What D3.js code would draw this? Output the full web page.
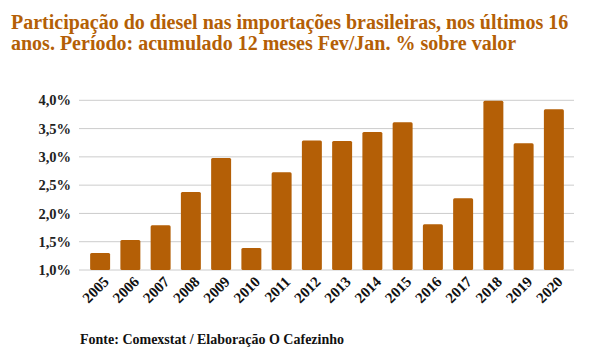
<!DOCTYPE html>
<html><head><meta charset="utf-8">
<script src="https://cdn.jsdelivr.net/npm/d3@7"></script>
<style>body{margin:0;background:#fff}</style>
</head><body>
<svg id="c" width="590" height="357"></svg>
<script>
const years = ["2005","2006","2007","2008","2009","2010","2011","2012","2013","2014","2015","2016","2017","2018","2019","2020"];
const values = [1.30,1.53,1.79,2.38,2.98,1.39,2.73,3.29,3.28,3.44,3.61,1.81,2.27,3.99,3.24,3.84];
const yTicks = [1.0,1.5,2.0,2.5,3.0,3.5,4.0];
const titleLines = ["Participação do diesel nas importações brasileiras, nos últimos 16","anos. Período: acumulado 12 meses Fev/Jan. % sobre valor"];
const source = "Fonte: Comexstat / Elaboração O Cafezinho";

const color = "#b45f06";
const svg = d3.select("#c");
const font = "'Liberation Serif', 'Times New Roman', serif";

const x = d3.scaleBand().domain(years).range([85, 569]).paddingInner(0.34).paddingOuter(0.17);
const y = d3.scaleLinear().domain([1.0, 4.0]).range([270, 100.3]);

// title
svg.append("g").selectAll("text").data(titleLines).join("text")
  .attr("x", 11).attr("y", (d,i)=>29 + i*21)
  .attr("font-family", font).attr("font-weight","bold").attr("font-size", 20)
  .attr("fill", color).text(d=>d);

// grid
svg.append("g").selectAll("line").data(yTicks).join("line")
  .attr("x1", 79).attr("x2", 574)
  .attr("y1", d=>y(d)).attr("y2", d=>y(d))
  .attr("stroke", "#cccccc").attr("stroke-width", 1);

// y labels
const fmt = d => d.toFixed(1).replace(".", ",") + "%";
svg.append("g").selectAll("text").data(yTicks).join("text")
  .attr("x", 71).attr("y", d=>y(d)).attr("dy","0.35em")
  .attr("text-anchor","end")
  .attr("font-family", font).attr("font-weight","bold").attr("font-size", 14.5)
  .attr("fill","#222").text(fmt);

// bars
svg.append("g").selectAll("rect").data(values).join("rect")
  .attr("x", (d,i)=>x(years[i])).attr("width", x.bandwidth())
  .attr("y", d=>y(d)).attr("height", d=>y(1.0)-y(d))
  .attr("rx", 1.5)
  .attr("fill", color);

// x labels
svg.append("g").selectAll("text").data(years).join("text")
  .attr("transform", d=>`translate(${x(d)+x.bandwidth()/2+6},${279}) rotate(-45)`)
  .attr("text-anchor","end").attr("dy","0.35em")
  .attr("font-family", font).attr("font-weight","bold").attr("font-size", 15)
  .attr("fill","#111").text(d=>d);

// source
svg.append("text").attr("x", 80).attr("y", 344)
  .attr("font-family", font).attr("font-weight","bold").attr("font-size", 14)
  .attr("fill","#111").text(source);
</script>
</body></html>
